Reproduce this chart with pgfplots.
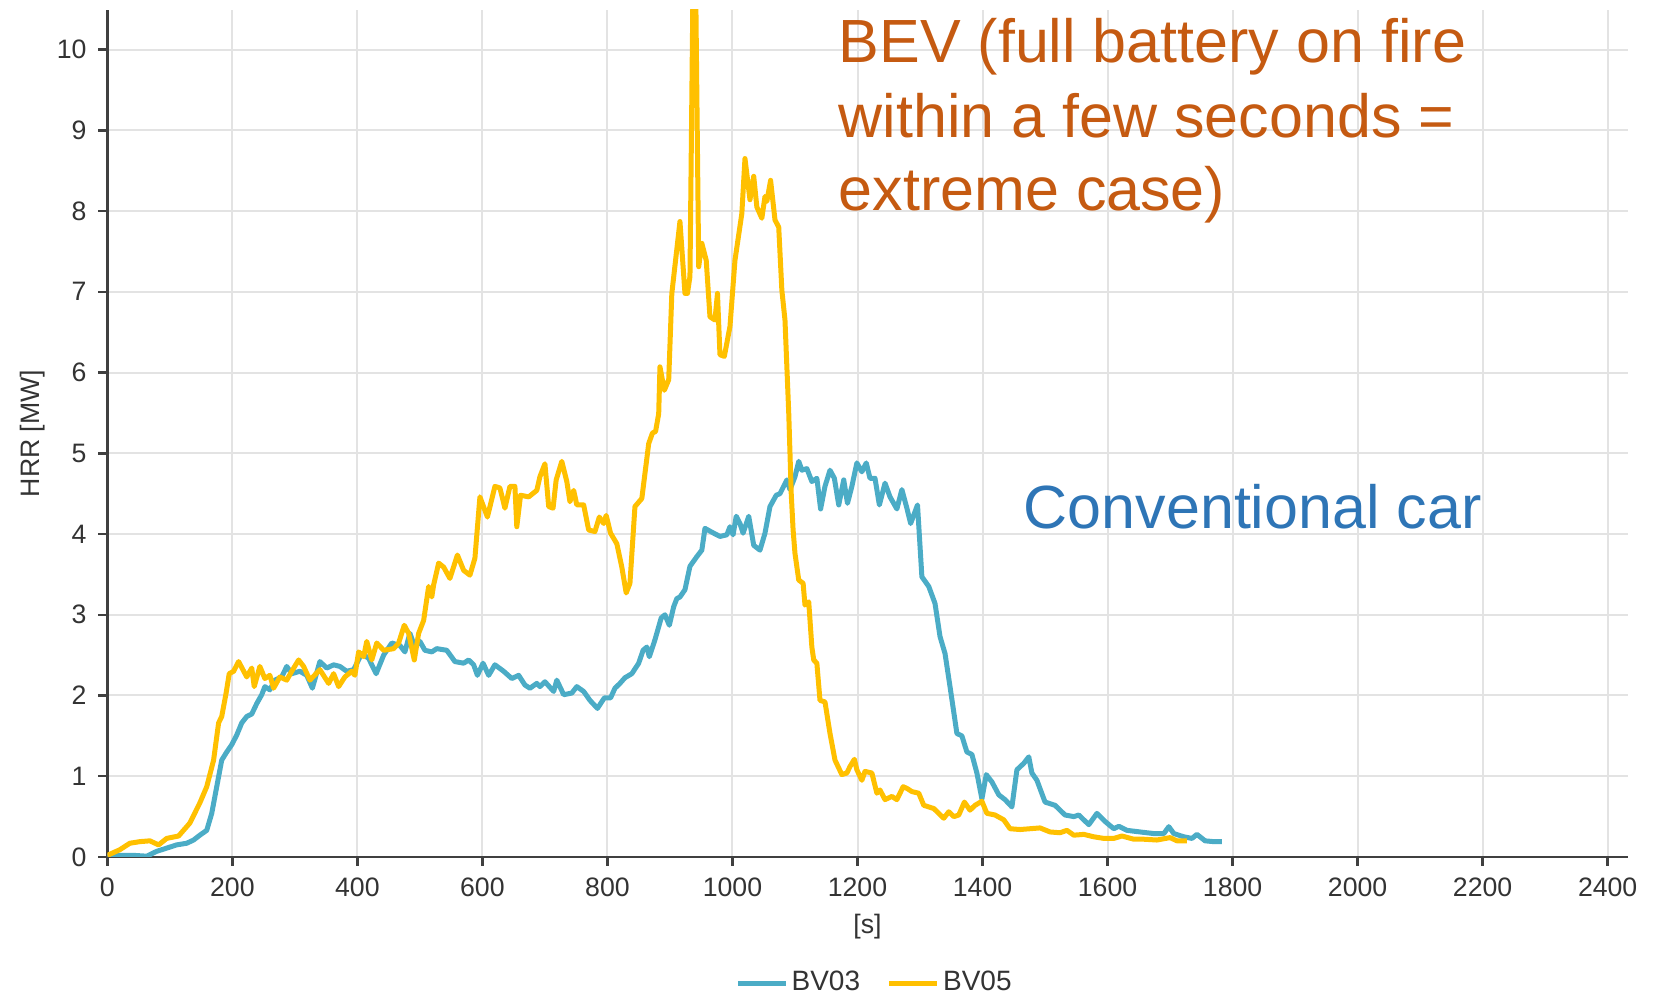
\documentclass[border=0pt]{standalone}
\usepackage{fontspec}
\setmainfont{Liberation Sans}
\usepackage{pgfplots}
\usepackage{pgfplotstable}
\pgfplotsset{compat=1.18}

\definecolor{bvthree}{HTML}{4BACC6}
\definecolor{bvfive}{HTML}{FFC000}
\definecolor{bevtext}{HTML}{C55A11}
\definecolor{convtext}{HTML}{2E75B6}
\definecolor{gridgray}{HTML}{E3E3E3}
\definecolor{axisgray}{HTML}{404040}
\definecolor{labelgray}{HTML}{333333}

% Heat release rate, conventional car (BV03)
\pgfplotstableread{
t hrr
0 0.01
20 0.02
42 0.02
63 0.01
79 0.07
95 0.11
111 0.15
127 0.17
138 0.21
148 0.27
159 0.33
167 0.54
175 0.87
183 1.20
191 1.30
199 1.39
207 1.51
215 1.66
223 1.74
231 1.77
239 1.90
247 2.01
252 2.11
260 2.07
268 2.19
279 2.23
287 2.36
295 2.27
308 2.30
319 2.25
328 2.09
340 2.42
351 2.34
362 2.38
372 2.36
383 2.30
394 2.32
407 2.52
418 2.46
430 2.27
442 2.50
455 2.65
468 2.62
476 2.54
484 2.77
492 2.60
500 2.67
508 2.56
519 2.54
527 2.58
543 2.56
556 2.42
570 2.40
578 2.44
586 2.38
592 2.25
601 2.40
610 2.25
620 2.38
634 2.30
647 2.21
658 2.25
668 2.13
676 2.09
687 2.15
692 2.11
700 2.17
714 2.05
719 2.19
730 2.01
743 2.03
751 2.11
762 2.05
772 1.94
784 1.84
795 1.97
805 1.97
812 2.09
820 2.15
828 2.22
839 2.27
850 2.40
857 2.56
863 2.60
867 2.48
876 2.69
886 2.96
892 3.00
899 2.87
906 3.10
911 3.20
916 3.22
924 3.31
932 3.60
943 3.72
951 3.80
956 4.07
970 4.01
980 3.97
991 3.99
996 4.09
1001 3.99
1006 4.22
1012 4.13
1017 4.01
1026 4.22
1034 3.86
1044 3.80
1052 4.01
1060 4.34
1070 4.48
1076 4.50
1087 4.67
1092 4.55
1100 4.71
1106 4.90
1111 4.79
1119 4.81
1127 4.65
1135 4.69
1141 4.31
1148 4.59
1156 4.79
1163 4.69
1170 4.36
1178 4.67
1184 4.38
1191 4.59
1199 4.88
1207 4.77
1214 4.88
1220 4.69
1228 4.69
1235 4.36
1244 4.63
1252 4.46
1263 4.31
1271 4.55
1279 4.32
1285 4.13
1296 4.36
1303 3.47
1314 3.35
1324 3.14
1332 2.73
1340 2.52
1348 2.11
1359 1.53
1367 1.50
1375 1.30
1383 1.27
1391 1.04
1399 0.72
1406 1.02
1415 0.93
1426 0.77
1436 0.71
1447 0.62
1455 1.08
1466 1.16
1474 1.24
1479 1.04
1487 0.95
1500 0.68
1516 0.64
1532 0.52
1546 0.50
1554 0.52
1570 0.40
1583 0.54
1596 0.44
1610 0.35
1618 0.38
1631 0.33
1652 0.31
1674 0.29
1690 0.29
1698 0.375
1706 0.29
1722 0.25
1735 0.23
1743 0.28
1756 0.20
1770 0.19
1783 0.19
}\bvthreedata

% Heat release rate, battery electric vehicle (BV05)
\pgfplotstableread{
t hrr
0 0.02
20 0.09
36 0.17
52 0.19
68 0.20
82 0.15
95 0.23
114 0.26
132 0.42
148 0.67
159 0.87
170 1.20
178 1.66
183 1.74
190 2.03
195 2.27
202 2.30
210 2.42
223 2.23
231 2.34
235 2.11
244 2.36
252 2.21
260 2.25
266 2.09
276 2.23
287 2.19
295 2.30
306 2.44
314 2.36
324 2.19
340 2.32
354 2.15
362 2.27
370 2.11
380 2.23
391 2.30
396 2.25
402 2.54
410 2.48
415 2.67
423 2.44
431 2.65
442 2.56
458 2.58
466 2.65
475 2.87
482 2.77
491 2.44
498 2.77
506 2.93
514 3.35
519 3.22
522 3.37
530 3.64
538 3.59
548 3.45
560 3.74
570 3.55
580 3.49
588 3.70
596 4.46
608 4.21
620 4.59
628 4.57
636 4.32
644 4.59
652 4.59
655 4.09
661 4.48
674 4.46
687 4.54
692 4.71
700 4.87
706 4.34
713 4.32
718 4.67
727 4.90
735 4.65
740 4.40
746 4.54
751 4.36
762 4.36
770 4.05
780 4.03
787 4.21
794 4.13
798 4.23
805 4.01
815 3.88
823 3.59
830 3.27
836 3.39
844 4.34
855 4.44
866 5.12
872 5.25
877 5.27
882 5.49
884 6.07
891 5.78
898 5.91
903 6.98
916 7.87
924 6.98
928 6.98
932 7.19
937 10.9
941 10.9
946 7.31
951 7.60
958 7.39
964 6.69
972 6.65
976 6.98
980 6.22
987 6.20
996 6.57
1004 7.39
1015 7.97
1020 8.65
1028 8.14
1034 8.43
1039 8.05
1047 7.91
1052 8.18
1055 8.12
1061 8.38
1068 7.89
1074 7.80
1079 7.02
1084 6.65
1090 5.50
1094 4.50
1097 4.05
1100 3.76
1106 3.43
1113 3.39
1116 3.12
1122 3.16
1127 2.60
1130 2.44
1135 2.40
1140 1.94
1148 1.92
1156 1.53
1164 1.20
1175 1.02
1183 1.04
1188 1.12
1195 1.21
1199 1.08
1207 0.95
1212 1.06
1223 1.04
1231 0.79
1236 0.83
1244 0.71
1255 0.75
1263 0.71
1273 0.87
1279 0.85
1287 0.81
1298 0.79
1306 0.64
1322 0.60
1338 0.48
1346 0.56
1354 0.50
1362 0.52
1371 0.68
1380 0.58
1388 0.64
1399 0.69
1407 0.54
1420 0.52
1434 0.46
1444 0.35
1460 0.34
1476 0.35
1492 0.36
1508 0.31
1524 0.30
1535 0.33
1546 0.27
1562 0.28
1578 0.25
1594 0.23
1610 0.23
1623 0.26
1642 0.22
1658 0.22
1679 0.21
1700 0.24
1711 0.20
1727 0.20
}\bvfivedata

\begin{document}
\begin{tikzpicture}
\begin{axis}[
  name=ax,
  scale only axis,
  width=456.1pt, height=254.1pt,
  xmin=0, xmax=2432, ymin=0, ymax=10.49,
  axis x line=bottom, axis y line=left,
  axis line style={-, draw=axisgray, line width=0.75pt},
  xtick={0,200,...,2400}, ytick={0,1,...,10},
  tick align=outside, major tick length=2.7pt,
  tick style={draw=axisgray, line width=0.75pt},
  grid=major, major grid style={draw=gridgray, line width=0.6pt},
  ticklabel style={font=\fontsize{8}{9.6}\selectfont, text=labelgray},
  /pgf/number format/assume math mode=true,
  /pgf/number format/set thousands separator={},
  xlabel={[s]}, ylabel={HRR [MW]},
  label style={font=\fontsize{8}{9.6}\selectfont, text=labelgray},
  xlabel style={at={(axis description cs:0.5,-0.0826)}, anchor=center},
  ylabel style={at={(axis description cs:-0.0493,0.5)}, anchor=center},
  legend style={at={(axis description cs:0.505,-0.1488)}, anchor=center,
    draw=none, fill=none, legend columns=2,
    font=\fontsize{8.4}{10}\selectfont, text=labelgray,
    nodes={inner xsep=1pt},
    /tikz/every even column/.append style={column sep=7pt}},
  legend image code/.code={\draw[#1, line width=1.5pt] (0pt,0pt) -- (14.4pt,0pt);},
  no markers,
]
\addplot[bvthree, line width=1.5pt, line join=round] table[x=t, y=hrr] {\bvthreedata};
\addlegendentry{BV03}
\addplot[bvfive, line width=1.5pt, line join=round] table[x=t, y=hrr] {\bvfivedata};
\addlegendentry{BV05}

\node[anchor=base west, inner sep=0pt, text=bevtext, font=\fontsize{18.3}{22}\selectfont]
  at (axis cs:1169,9.845) {BEV (full battery on fire};
\node[anchor=base west, inner sep=0pt, text=bevtext, font=\fontsize{18.3}{22}\selectfont]
  at (axis cs:1169,8.916) {within a few seconds =};
\node[anchor=base west, inner sep=0pt, text=bevtext, font=\fontsize{18.3}{22}\selectfont]
  at (axis cs:1169,8.012) {extreme case)};
\node[anchor=base west, inner sep=0pt, text=convtext, font=\fontsize{18.3}{22}\selectfont]
  at (axis cs:1465,4.074) {Conventional car};
\end{axis}
\pgfresetboundingbox
\path[use as bounding box] ([shift={(-32.2pt,-41.7pt)}]ax.south west) rectangle ([shift={(10.3pt,3pt)}]ax.north east);
\end{tikzpicture}
\end{document}
